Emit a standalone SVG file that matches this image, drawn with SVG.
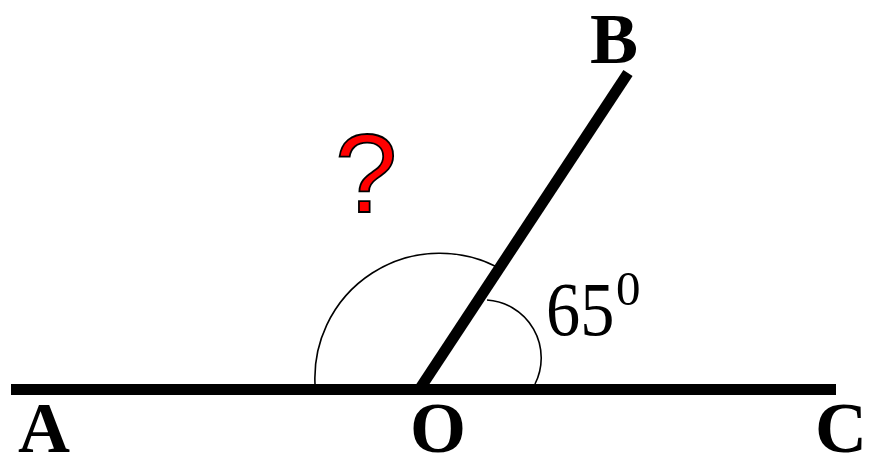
<svg xmlns="http://www.w3.org/2000/svg" width="881" height="456" viewBox="0 0 881 456">
<style>
.ray{stroke:#000;stroke-width:11;fill:none;stroke-linecap:butt}
.arc{stroke:#000;stroke-width:1.6;fill:none}
.pt{font-family:"Liberation Serif","Times New Roman",serif;font-weight:bold;font-size:72px;fill:#000}
.num{font-family:"Liberation Serif","Times New Roman",serif;fill:#000}
</style>
<rect width="881" height="456" fill="#fff"/>
<g id="connectors">
<path class="arc" d="M315,384 A125,125 0 0 1 497,267"/>
<path class="arc" d="M487,300 A58,58 0 0 1 535,384"/>
<line class="ray" x1="11" y1="389.5" x2="836" y2="389.5"/>
<line class="ray" x1="419" y1="390" x2="628" y2="73"/>
</g>
<g id="A"><text class="pt" x="18" y="452">A</text></g>
<g id="O"><text class="pt" x="410" y="452">O</text></g>
<g id="C"><text class="pt" x="815" y="452">C</text></g>
<g id="B"><text class="pt" x="590" y="63">B</text></g>
<g id="angle"><text class="num" transform="translate(546,335) scale(0.9,1)" font-size="76">65</text><text class="num" x="616" y="305" font-size="49">0</text></g>
<g id="question"><text x="335" y="212" font-family="Liberation Sans,Arial,sans-serif" font-size="112" fill="#ff0000" stroke="#000" stroke-width="1.8">?</text></g>
</svg>
